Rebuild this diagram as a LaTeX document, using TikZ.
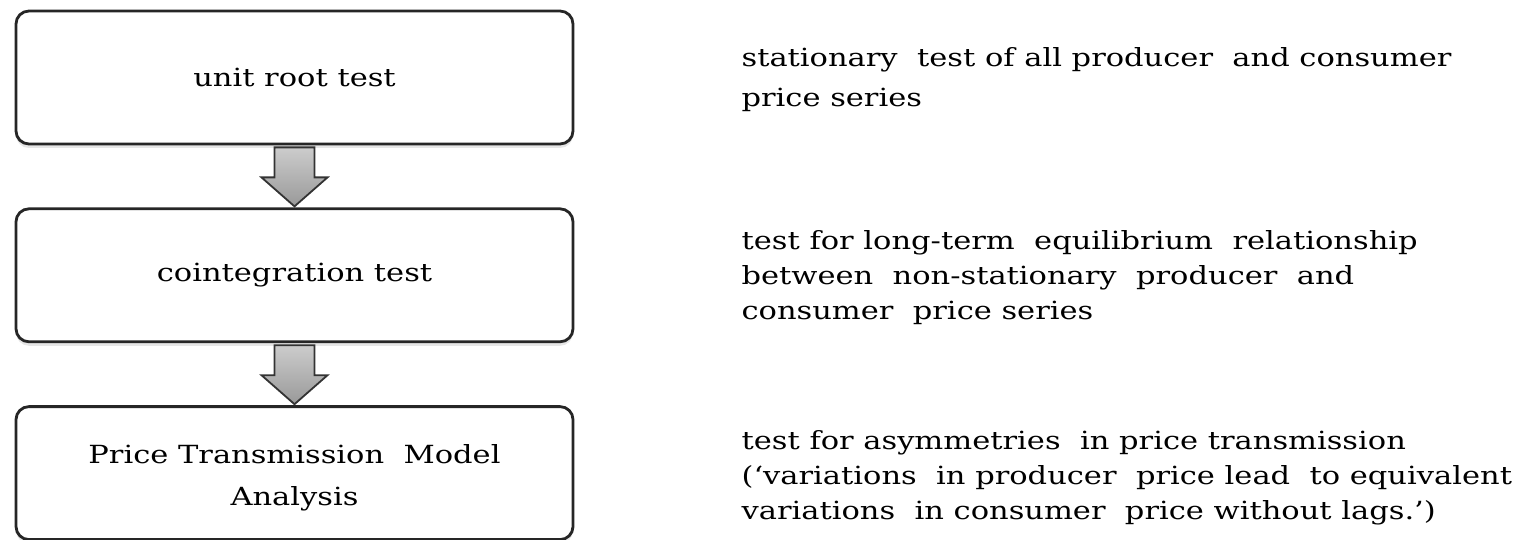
\documentclass[tikz,border=0pt]{standalone}
\usepackage{fontspec}
\setmainfont[FakeStretch=1.22]{DejaVu Serif}
\usetikzlibrary{
  positioning,
  calc, shadows
}
\tikzset{
  stage/.style={
    draw=black!85,
    line width=2.8pt,
    rounded corners=13pt,
    fill=white,
    minimum width=557pt,
    minimum height=133pt,
    align=center,
    font=\fontsize{25}{42}\selectfont,
    drop shadow={shadow xshift=0pt, shadow yshift=-4pt, opacity=0.2},
  },
  note/.style={
    anchor=west,
    inner sep=0pt,
    align=left,
    font=\fontsize{25}{35}\selectfont,
  },
  blockarrow/.style={
    draw=black!80,
    line width=1.8pt,
    line join=miter,
    top color=black!20,
    bottom color=black!40,
  },
}
% block arrow from the bottom of #1 to the top of #2
\newcommand{\flowarrow}[2]{
  \draw[blockarrow]
    ($(#1.south)+(-20pt,-2pt)$) -- ($(#1.south)+(20pt,-2pt)$)
    -- ($(#2.north)+(20pt,30pt)$) -- ($(#2.north)+(33pt,30pt)$)
    -- ($(#2.north)+(0pt,1pt)$)
    -- ($(#2.north)+(-33pt,30pt)$) -- ($(#2.north)+(-20pt,30pt)$)
    -- cycle;
}

\begin{document}
\begin{tikzpicture}[x=1pt,y=-1pt]
  \useasboundingbox (0,0) rectangle (1522,540);

  % stages
  \node[stage] (unit) at (294.5,77.5) {unit root test};
  \node[stage,below=62pt of unit] (coint) {cointegration test};
  \node[stage,below=62pt of coint] (model) {\rule{0pt}{29pt}Price Transmission\ \ Model\\Analysis};

  % arrows
  \flowarrow{unit}{coint}
  \flowarrow{coint}{model}

  % descriptions
  \node[note,right=167pt of unit,yshift=-2pt] (unitnote)
    {stationary\ \ test of all producer\ \ and consumer\\[5pt]price series};
  \node[note,right=167pt of coint,yshift=-2pt] (cointnote)
    {test for long-term\ \ equilibrium\ \ relationship\\between\ \ non-stationary\ \ producer\ \ and\\consumer\ \ price series};
  \node[note,right=167pt of model,yshift=-5pt] (modelnote)
    {test for asymmetries\ \ in price transmission\\(`variations\ \ in producer\ \ price lead\ \ to equivalent\\variations\ \ in consumer\ \ price without lags.')};
\end{tikzpicture}
\end{document}
